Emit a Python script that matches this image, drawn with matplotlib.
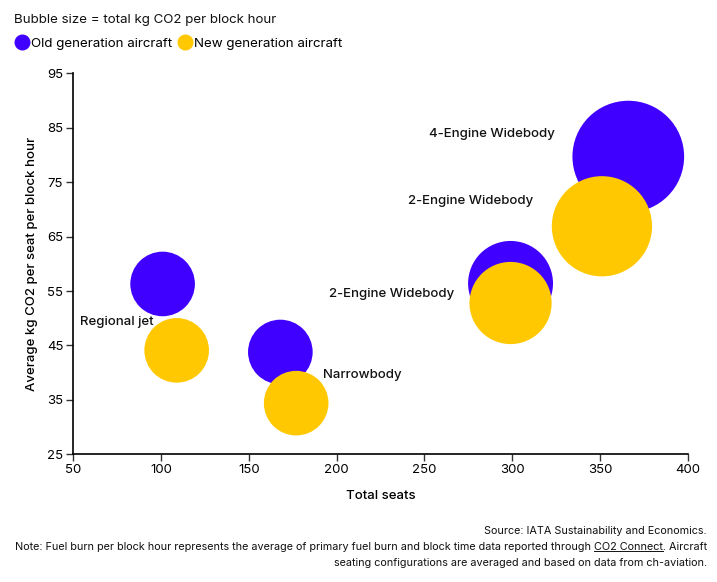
import numpy as np
import matplotlib.pyplot as plt
from matplotlib.lines import Line2D

plt.rcParams['font.family'] = ['Inter', 'DejaVu Sans']

# data
old_seats = [101, 168, 299, 366]
old_co2_seat = [56.3, 43.8, 56.4, 79.7]
new_seats = [109, 177, 299, 351]
new_co2_seat = [44.1, 34.4, 52.8, 66.9]

labels = ['Regional jet', 'Narrowbody', '2-Engine Widebody', '2-Engine Widebody', '4-Engine Widebody']
label_x = [54, 192, 267, 312, 324]
label_y = [49.3, 39.6, 54.4, 71.6, 83.9]
label_ha = ['left', 'left', 'right', 'right', 'right']

blue = '#4000ff'
yellow = '#ffc800'
dpi = 100


def bubble_size(seats, per_seat):
    # total kg CO2 per block hour -> sqrt scale with a minimum radius (px)
    total = np.array(seats) * np.array(per_seat)
    r_px = np.maximum(32.3, 0.327 * np.sqrt(total))
    d_pt = 2 * r_px * 72 / dpi
    return d_pt ** 2


fig = plt.figure(figsize=(7.17, 5.82), dpi=dpi)
ax = fig.add_axes([0.1018, 0.2194, 0.8578, 0.6546])

ax.scatter(old_seats, old_co2_seat, s=bubble_size(old_seats, old_co2_seat),
           color=blue, linewidths=0, zorder=2)
ax.scatter(new_seats, new_co2_seat, s=bubble_size(new_seats, new_co2_seat),
           color=yellow, linewidths=0, zorder=3)

for t, x, y, ha in zip(labels, label_x, label_y, label_ha):
    ax.text(x, y, t, ha=ha, va='center', fontsize=9.5, fontweight='medium',
            color='#111111', zorder=4)

ax.set_xlim(50, 400)
ax.set_ylim(25, 95)
ax.set_xticks(np.arange(50, 401, 50))
ax.set_yticks(np.arange(25, 96, 10))
ax.tick_params(labelsize=9.5, length=5, width=1, color='#333333', pad=2)
for s in ['top', 'right']:
    ax.spines[s].set_visible(False)
for s in ['left', 'bottom']:
    ax.spines[s].set_linewidth(1.2)
ax.set_xlabel('Total seats', fontsize=9.5, fontweight='medium', labelpad=10)
ax.set_ylabel('Average kg CO2 per seat per block hour', fontsize=9.5,
              fontweight='medium', labelpad=6)

# header and legend
fig.text(14 / 717, 1 - 20 / 582, 'Bubble size = total kg CO2 per block hour',
         fontsize=9.6, va='center', ha='left', color='#111111')
handles = [Line2D([], [], marker='o', ls='', color=blue, markersize=10.5),
           Line2D([], [], marker='o', ls='', color=yellow, markersize=10.5)]
fig.legend(handles, ['Old generation aircraft', 'New generation aircraft'],
           loc='center left', bbox_to_anchor=(6 / 717, 1 - 44 / 582), ncol=2,
           frameon=False, fontsize=9.6, handlelength=0.8, handletextpad=0.3,
           columnspacing=0.55, borderpad=0.3)

# footnote
fx = 707 / 717
fs = 7.8
fig.text(fx, 1 - 531 / 582, 'Source: IATA Sustainability and Economics.',
         ha='right', va='center', fontsize=fs, color='#111111')
line2 = fig.text(fx, 1 - 547 / 582,
                 'Note: Fuel burn per block hour represents the average of primary fuel burn and block '
                 'time data reported through CO2 Connect. Aircraft',
                 ha='right', va='center', fontsize=fs, color='#111111')
fig.text(fx, 1 - 563 / 582,
         'seating configurations are averaged and based on data from ch-aviation.',
         ha='right', va='center', fontsize=fs, color='#111111')

# underline "CO2 Connect"
fig.canvas.draw()
r = fig.canvas.get_renderer()
tail = fig.text(fx, 0, '. Aircraft', ha='right', fontsize=fs, alpha=0)
link = fig.text(fx, 0, 'CO2 Connect. Aircraft', ha='right', fontsize=fs, alpha=0)
w_tail = tail.get_window_extent(r).width
w_link = link.get_window_extent(r).width
bb = line2.get_window_extent(r)
x1 = (bb.x1 - w_tail) / fig.bbox.width
x0 = (bb.x1 - w_link) / fig.bbox.width
yu = (bb.y0 + 1) / fig.bbox.height
fig.add_artist(Line2D([x0, x1], [yu, yu], transform=fig.transFigure,
                      color='#111111', lw=0.7))

fig.savefig('out.png', dpi=dpi)
